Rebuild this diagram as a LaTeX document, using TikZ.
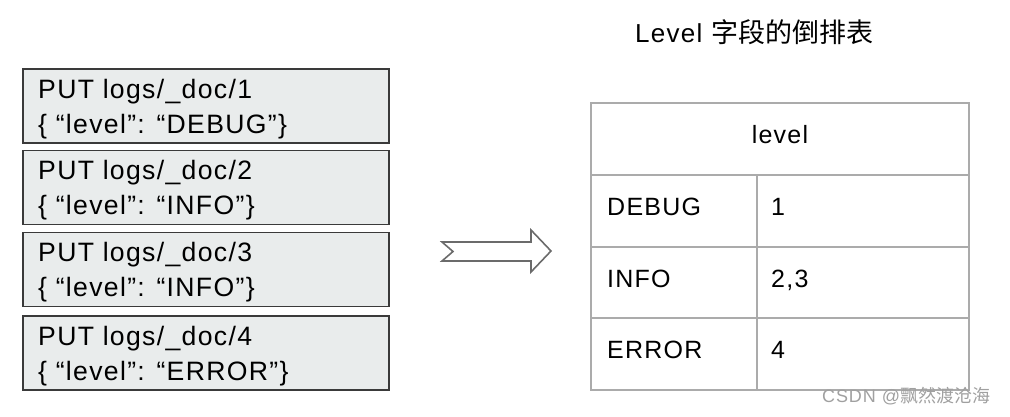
\documentclass[tikz,border=0pt]{standalone}
\usepackage{fontspec}
\setmainfont{Liberation Sans}[LetterSpace=5]
\newfontfamily\cjkfont{Noto Sans CJK SC}
\definecolor{boxfill}{HTML}{E9ECEC}
\definecolor{boxline}{HTML}{3A3A3A}
\definecolor{tabline}{HTML}{ABABAB}
\definecolor{arrline}{HTML}{6B6B6B}
\definecolor{wmark}{HTML}{A0A0A0}
\begin{document}
\begin{tikzpicture}[x=1pt,y=-1pt,
  logbox/.style={draw=boxline,fill=boxfill,line width=1.4pt,minimum width=366pt,minimum height=74pt,inner sep=0pt},
  txt/.style={anchor=base west,inner sep=0pt,font=\fontsize{26.6}{30}\selectfont},
  cell/.style={draw=tabline,line width=1.4pt,inner sep=0pt},
  ctxt/.style={anchor=base west,inner sep=0pt,font=\fontsize{25}{30}\selectfont}]
\useasboundingbox (0,0) rectangle (1010,416);
% log boxes
\node[logbox] (b1) at (206,106) {};
\node[logbox] (b2) at (206,187.5) {};
\node[logbox] (b3) at (206,269.5) {};
\node[logbox] (b4) at (206,353) {};
\node[txt] (t1a) at (38,98) {PUT logs/\_doc/1};
\node[txt] (t1b) at (38,133) {\{ “level”: “DEBUG”\}};
\node[txt] (t2a) at (38,179.5) {PUT logs/\_doc/2};
\node[txt] (t2b) at (38,214.5) {\{ “level”: “INFO”\}};
\node[txt] (t3a) at (38,261.5) {PUT logs/\_doc/3};
\node[txt] (t3b) at (38,296.5) {\{ “level”: “INFO”\}};
\node[txt] (t4a) at (38,345) {PUT logs/\_doc/4};
\node[txt] (t4b) at (38,380) {\{ “level”: “ERROR”\}};
% block arrow
\draw[arrline,line width=1.6pt,line join=miter,fill=white]
  (442,242) -- (531,242) -- (531,230) -- (551,251) -- (531,272) -- (531,261)
  -- (442,261) -- (453,251.5) -- cycle;
% title
\node[anchor=base west,inner sep=0pt,font=\fontsize{26}{30}\selectfont] (title) at (635,42)
  {Level\hspace{9pt}{\cjkfont\fontsize{27}{30}\selectfont 字段的倒排表}};
% table
\node[cell,minimum width=378pt,minimum height=72pt] (hdr) at (780,139) {};
\node[cell,minimum width=166pt,minimum height=72pt] (k1) at (674,211) {};
\node[cell,minimum width=212pt,minimum height=72pt] (v1) at (863,211) {};
\node[cell,minimum width=166pt,minimum height=71pt] (k2) at (674,282.5) {};
\node[cell,minimum width=212pt,minimum height=71pt] (v2) at (863,282.5) {};
\node[cell,minimum width=166pt,minimum height=72pt] (k3) at (674,354) {};
\node[cell,minimum width=212pt,minimum height=72pt] (v3) at (863,354) {};
\node[anchor=base,inner sep=0pt,font=\fontsize{25}{30}\selectfont] (lv) at (780,143) {level};
\node[ctxt] (kd) at (607,215) {DEBUG};
\node[ctxt] (vd) at (771,215) {1};
\node[ctxt] (ki) at (607,287) {INFO};
\node[ctxt] (vi) at (771,287) {2,3};
\node[ctxt] (ke) at (607,358) {ERROR};
\node[ctxt] (ve) at (771,358) {4};
% watermark
\node[anchor=base west,inner sep=0pt,text=wmark,font=\fontsize{18}{20}\selectfont] (wm) at (822,402)
  {CSDN @{\cjkfont 飘然渡沧海}};
\end{tikzpicture}
\end{document}
